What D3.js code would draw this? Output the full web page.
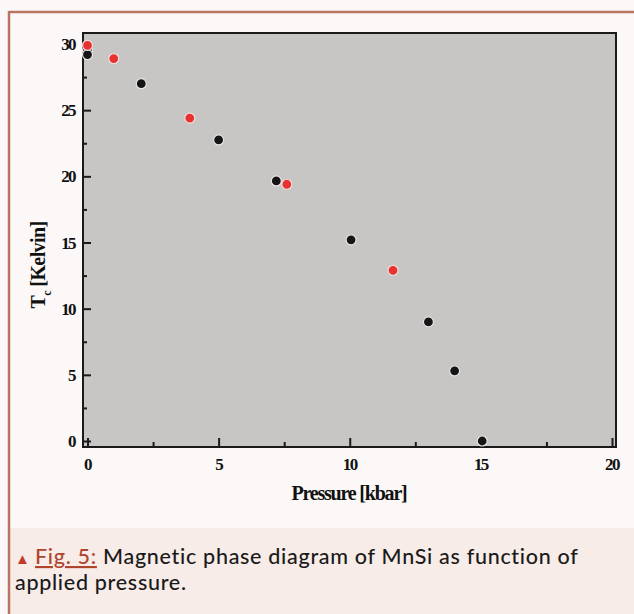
<!DOCTYPE html>
<html><head><meta charset="utf-8">
<script src="https://cdn.jsdelivr.net/npm/d3@7"></script>
<style>
html,body{margin:0;padding:0;background:#fbf8f7;}
svg{display:block;}
</style></head>
<body>
<script>
// Data
const blackP = [0, 0, 2.05, 5.0, 7.2, 10.05, 13.0, 14.0, 15.05];
const blackT = [29.5, 29.2, 27.0, 22.75, 19.65, 15.2, 9.0, 5.3, 0.0];
const redP = [0, 1.0, 3.9, 7.6, 11.65];
const redT = [29.9, 28.9, 24.4, 19.4, 12.9];
const xTicks = [0, 5, 10, 15, 20];
const yTicks = [0, 5, 10, 15, 20, 25, 30];
const xMinor = [2.5, 7.5, 12.5, 17.5];
const yMinor = [2.5, 7.5, 12.5, 17.5, 22.5, 27.5];

const W = 634, H = 614;
const svg = d3.select("body").append("svg").attr("width", W).attr("height", H);

// page background & frame
svg.append("rect").attr("x",0).attr("y",0).attr("width",W).attr("height",H).attr("fill","#fbf8f7");
svg.append("rect").attr("x",10).attr("y",528).attr("width",W-10).attr("height",H-528).attr("fill","#f8ece8");
svg.append("line").attr("x1",9).attr("x2",W).attr("y1",12).attr("y2",12).attr("stroke","#b87660").attr("stroke-width",2.5);
svg.append("line").attr("x1",9).attr("x2",9).attr("y1",11).attr("y2",H).attr("stroke","#b87660").attr("stroke-width",2.5);

const plot = {l:83, r:616, t:33, b:447};
const x = d3.scaleLinear().domain([0,20]).range([87.5,612]);
const y = d3.scaleLinear().domain([0,30]).range([441,44]);

svg.append("rect").attr("x",plot.l).attr("y",plot.t).attr("width",plot.r-plot.l).attr("height",plot.b-plot.t)
  .attr("fill","#c8c5c5").attr("stroke","#1a1a1a").attr("stroke-width",2);

const g = svg.append("g");
// ticks (inside)
g.append("g").attr("transform",`translate(0,${plot.b})`).call(d3.axisTop(x).tickValues(xTicks).tickSize(9).tickFormat(""))
  .call(a=>a.select(".domain").remove()).selectAll("line").attr("stroke","#1a1a1a").attr("stroke-width",2);
g.append("g").attr("transform",`translate(0,${plot.b})`).call(d3.axisTop(x).tickValues(xMinor).tickSize(5).tickFormat(""))
  .call(a=>a.select(".domain").remove()).selectAll("line").attr("stroke","#1a1a1a").attr("stroke-width",2);
g.append("g").attr("transform",`translate(${plot.l},0)`).call(d3.axisRight(y).tickValues(yTicks).tickSize(8).tickFormat(""))
  .call(a=>a.select(".domain").remove()).selectAll("line").attr("stroke","#1a1a1a").attr("stroke-width",2);
g.append("g").attr("transform",`translate(${plot.l},0)`).call(d3.axisRight(y).tickValues(yMinor).tickSize(4).tickFormat(""))
  .call(a=>a.select(".domain").remove()).selectAll("line").attr("stroke","#1a1a1a").attr("stroke-width",2);

const lblFont = "'Liberation Serif', 'DejaVu Serif', serif";
// tick labels
svg.selectAll(".xl").data(xTicks).enter().append("text")
  .attr("x",d=>x(d)).attr("y",470).attr("text-anchor","middle")
  .attr("font-family",lblFont).attr("font-weight","bold").attr("font-size",17).attr("letter-spacing",-1.6)
  .attr("fill","#111").text(d=>d);
svg.selectAll(".yl").data(yTicks).enter().append("text")
  .attr("x",75).attr("y",d=>y(d)+6).attr("text-anchor","end")
  .attr("font-family",lblFont).attr("font-weight","bold").attr("font-size",17).attr("letter-spacing",-1.6)
  .attr("fill","#111").text(d=>d);

// axis titles
svg.append("text").attr("x",349).attr("y",500).attr("text-anchor","middle")
  .attr("font-family",lblFont).attr("font-weight","bold").attr("font-size",20).attr("letter-spacing",-1.2)
  .attr("fill","#111").text("Pressure [kbar]");
const yt = svg.append("text").attr("transform","translate(45,265) rotate(-90)").attr("text-anchor","middle")
  .attr("font-family",lblFont).attr("font-weight","bold").attr("font-size",20).attr("letter-spacing",-0.6).attr("fill","#111");
yt.append("tspan").text("T");
yt.append("tspan").attr("font-size",12).attr("dy",6).text("c");
yt.append("tspan").attr("dy",-6).text(" [Kelvin]");

// points
const pts = svg.append("g");
pts.selectAll(".b").data(blackP.map((p,i)=>[p,blackT[i]])).enter().append("circle")
  .attr("cx",d=>x(d[0])).attr("cy",d=>y(d[1])).attr("r",5)
  .attr("fill","#151515").attr("stroke","#e8e6e6").attr("stroke-width",1.2);
pts.selectAll(".r").data(redP.map((p,i)=>[p,redT[i]])).enter().append("circle")
  .attr("cx",d=>x(d[0])).attr("cy",d=>y(d[1])).attr("r",5)
  .attr("fill","#e8322f").attr("stroke","#f0dede").attr("stroke-width",1.2);

// caption
const capFont = "Lato, 'Open Sans', sans-serif";
const cap = svg.append("text").attr("x",15).attr("y",564).attr("font-family",capFont).attr("font-size",21.5)
  .attr("font-weight",500).attr("fill","#1a1a1a").attr("letter-spacing",0.7);
cap.append("tspan").attr("fill","#c0392b").attr("font-size",15).text("▲ ");
cap.append("tspan").attr("fill","#b0452d").attr("text-decoration","underline").text("Fig. 5:");
cap.append("tspan").text(" Magnetic phase diagram of MnSi as function of");
svg.append("text").attr("x",15).attr("y",590).attr("font-family",capFont).attr("font-size",21.5)
  .attr("font-weight",500).attr("fill","#1a1a1a").attr("letter-spacing",0.7)
  .text("applied pressure.");
</script>
</body></html>
